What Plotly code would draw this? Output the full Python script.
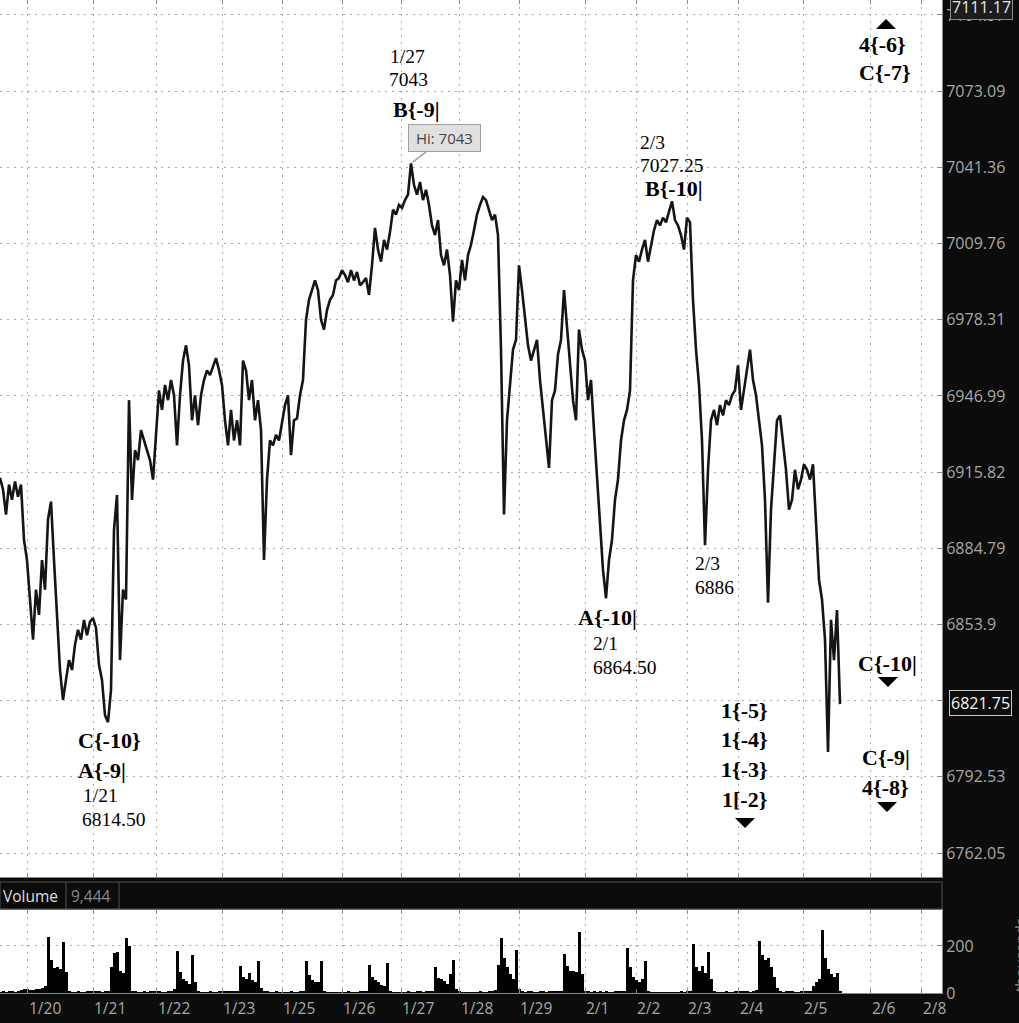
import math
import plotly.graph_objects as go

# ---------------- data (one value per bar) ----------------
price = [
    6913.5, 6908.75, 6898.5, 6910.75, 6904.5, 6912, 6905.75, 6910.75, 6888.25, 6880,
    6864, 6847.75, 6868, 6857.75, 6880, 6868, 6896.5, 6903.75, 6880, 6859.75,
    6835.5, 6823.5, 6831.5, 6839.5, 6835.5, 6845.75, 6851.75, 6847.75, 6855.75, 6849.5,
    6855, 6856.5, 6852.5, 6837.5, 6831.5, 6817.25, 6814.5, 6827.5, 6892.25, 6906.5,
    6839.5, 6868, 6864, 6945.25, 6904.5, 6924.75, 6920.75, 6933, 6928.75, 6924.75,
    6920.75, 6912.75, 6933, 6949.25, 6941.25, 6951.5, 6945.25, 6953.5, 6947.25, 6926.75,
    6947.25, 6961.5, 6967.75, 6959.5, 6937, 6947.25, 6935, 6947.25, 6953.5, 6957.5,
    6955.5, 6959.5, 6962.5, 6957.5, 6951.5, 6937, 6926.75, 6941.25, 6928.75, 6937,
    6926.75, 6961.5, 6957.5, 6945.25, 6953.5, 6937, 6945.25, 6933, 6880, 6912.75,
    6928.75, 6926.75, 6931, 6928.75, 6937, 6943.25, 6947.25, 6922.75, 6937, 6937.75,
    6947.25, 6953.5, 6978.25, 6986.5, 6990.5, 6994.5, 6990.5, 6978.25, 6974.25, 6982.25,
    6986.5, 6988.5, 6994.5, 6995.5, 6998.75, 6996.75, 6993.75, 6998.75, 6994.5, 6998,
    6992.5, 6993.75, 6995.5, 6988.5, 7000.75, 7016.25, 7007.25, 7002.25, 7011.25, 7007.25,
    7014.5, 7023.75, 7021.75, 7025.75, 7024.5, 7027.75, 7030, 7043, 7034, 7030,
    7035.25, 7027.75, 7032, 7025.75, 7017.25, 7013.25, 7019.5, 7005, 7000.75, 7007.25,
    6996.75, 6977.5, 6994.5, 6990.5, 7003, 6994.5, 7005, 7009.25, 7015.25, 7021.75,
    7025.75, 7029, 7027.75, 7023.75, 7019.5, 7021.75, 7013.25, 6966, 6898.5, 6937,
    6953.5, 6966, 6970, 7000.75, 6990.5, 6978.25, 6967.75, 6961.5, 6966, 6970,
    6953.5, 6941.25, 6928.75, 6917.5, 6945.25, 6949.25, 6964, 6970, 6990.5, 6974.25,
    6957.5, 6945.25, 6937, 6974.25, 6966, 6961.5, 6945.25, 6953.5, 6933, 6912.75,
    6892.25, 6876, 6864.5, 6880, 6888.25, 6904.5, 6912.75, 6928.75, 6937, 6941.25,
    6949.25, 6994.5, 7005, 7002.25, 7007.25, 7011.25, 7002.25, 7009.25, 7015.25, 7019.5,
    7017.25, 7020.5, 7018.5, 7023, 7027.25, 7019.5, 7017.25, 7013.25, 7007.25, 7020.5,
    7018.5, 6986.5, 6966, 6951.5, 6928.75, 6886, 6916.75, 6937, 6941.25, 6935,
    6943.25, 6939, 6945.25, 6943.25, 6947.25, 6949.25, 6959.5, 6941.25, 6949.25, 6957.5,
    6966, 6953.5, 6947.25, 6937, 6926.75, 6904.5, 6862.75, 6900.5, 6920.75, 6937,
    6939, 6928.75, 6916.75, 6900.5, 6904.5, 6916.75, 6908.75, 6912.75, 6919, 6916.75,
    6912.75, 6919, 6896.5, 6872, 6864, 6847.75, 6802.5, 6855.75, 6839.5, 6859.75, 6821.75,
]

volume_k = [
    4, 6, 3, 5, 8, 4, 6, 12, 15, 18,
    14, 12, 16, 18, 20, 30, 240, 140, 105, 110,
    100, 215, 90, 6, 4, 3, 5, 4, 3, 6,
    8, 10, 9, 5, 4, 6, 8, 110, 170, 175,
    95, 85, 235, 200, 10, 5, 4, 3, 5, 4,
    6, 5, 10, 8, 4, 3, 5, 6, 15, 180,
    90, 60, 50, 40, 160, 45, 5, 4, 3, 4,
    5, 3, 4, 6, 8, 6, 9, 7, 5, 10,
    115, 70, 60, 85, 55, 45, 135, 20, 10, 8,
    4, 3, 5, 2, 3, 4, 3, 5, 4, 3,
    6, 8, 135, 75, 55, 45, 45, 135, 5, 3,
    4, 3, 2, 3, 4, 3, 5, 4, 3, 4,
    5, 6, 10, 120, 70, 55, 45, 35, 30, 128,
    6, 3, 4, 2, 3, 4, 6, 3, 4, 5,
    6, 4, 5, 8, 10, 110, 65, 60, 50, 40,
    80, 140, 15, 5, 3, 4, 3, 2, 4, 3,
    5, 4, 3, 6, 8, 12, 120, 235, 150, 110,
    80, 60, 185, 15, 6, 4, 8, 5, 4, 3,
    6, 5, 4, 7, 5, 8, 6, 9, 165, 115,
    95, 95, 90, 260, 80, 6, 8, 4, 5, 3,
    6, 4, 5, 3, 4, 6, 5, 8, 10, 190,
    110, 70, 55, 45, 60, 135, 5, 3, 2, 4,
    3, 2, 3, 4, 2, 3, 4, 5, 3, 6,
    10, 210, 110, 95, 115, 85, 175, 60, 5, 4,
    3, 4, 5, 3, 4, 8, 10, 8, 6, 5,
    4, 6, 12, 220, 160, 140, 150, 110, 70, 20,
    5, 4, 8, 9, 6, 4, 3, 5, 8, 7,
    10, 30, 45, 60, 270, 150, 100, 80, 70, 85, 9.444,
]

day_start_bar = [9.33, 31, 52.33, 74, 94, 114, 133.67, 153.33, 173, 195,
                 212, 229, 246.33, 267.67, 290.33, 307.33]
day_labels = ["1/20", "1/21", "1/22", "1/23", "1/25", "1/26", "1/27", "1/28", "1/29",
              "2/1", "2/2", "2/3", "2/4", "2/5", "2/6", "2/8"]

price_ticks = [7104.97, 7073.09, 7041.36, 7009.76, 6978.31, 6946.99, 6915.82,
               6884.79, 6853.9, 6823.15, 6792.53, 6762.05]
price_tick_text = ["7104.97", "7073.09", "7041.36", "7009.76", "6978.31", "6946.99",
                   "6915.82", "6884.79", "6853.9", "", "6792.53", "6762.05"]
volume_ticks = [0, 200]
volume_tick_text = ["0", "200"]

hi_bar, hi_price = 137, 7043
last_price_text = "6821.75"
top_price_text = "7111.17"
last_volume_text = "9,444"

bars = list(range(len(price)))

# ---------------- layout geometry ----------------
W, H = 1019, 1023
PW, PH = 942, 993            # plot area in px (margins r=77, b=30)
PRICE_BOTTOM, VOL_TOP = 877, 910
Y_TOP, Y_BOT = 7111.26, 6752.48
X_MAX = 314
VOL_MAX = 353

def xp(px):
    return px / PW

def yp(py):
    return 1 - py / PH

GRID = "#a9a9a9"
DASH = "2px,5px"
AXIS_LINE = "#8a8a8a"
LABEL = "#a8a8a8"
SANS = "Open Sans"
SERIF = "Liberation Serif"

fig = go.Figure()
fig.add_trace(go.Scatter(x=bars, y=price, mode="lines",
                         line=dict(color="#151515", width=2.6),
                         xaxis="x", yaxis="y", hoverinfo="skip"))
fig.add_trace(go.Bar(x=bars, y=volume_k, marker=dict(color="black", line=dict(width=0)),
                     xaxis="x2", yaxis="y2", hoverinfo="skip"))

common_x = dict(range=[0, X_MAX], tickvals=day_start_bar, showticklabels=False,
                showgrid=True, gridcolor=GRID, griddash=DASH, gridwidth=1,
                ticks="inside", ticklen=4, tickcolor=AXIS_LINE,
                showline=True, linecolor=AXIS_LINE, linewidth=1, mirror="ticks",
                zeroline=False, fixedrange=True)

fig.update_layout(
    width=W, height=H,
    margin=dict(l=0, r=W - PW, t=0, b=H - PH, autoexpand=False),
    paper_bgcolor="#0c0c0c", plot_bgcolor="white",
    showlegend=False, bargap=0,
    xaxis=dict(domain=[0, 1], anchor="y", **common_x),
    xaxis2=dict(domain=[0, 1], anchor="y2", matches="x", **common_x),
    yaxis=dict(domain=[yp(PRICE_BOTTOM), 1], anchor="x", type="log",
               range=[math.log10(Y_BOT), math.log10(Y_TOP)], side="right",
               tickvals=price_ticks, ticktext=price_tick_text,
               ticks="inside", ticklen=5, tickcolor=AXIS_LINE,
               showgrid=True, gridcolor=GRID, griddash=DASH,
               showline=True, linecolor=AXIS_LINE, mirror=True, zeroline=False,
               tickfont=dict(family=SANS, size=16, color=LABEL), fixedrange=True),
    yaxis2=dict(domain=[0, yp(VOL_TOP)], anchor="x2", range=[0, VOL_MAX], side="right",
                tickvals=volume_ticks, ticktext=volume_tick_text,
                ticks="inside", ticklen=5, tickcolor=AXIS_LINE,
                showgrid=True, gridcolor=GRID, griddash=DASH,
                showline=True, linecolor=AXIS_LINE, mirror=True, zeroline=False,
                tickfont=dict(family=SANS, size=16, color=LABEL), fixedrange=True),
)

# ---- volume header band ----
fig.add_shape(type="rect", xref="paper", yref="paper", x0=0, x1=1,
              y0=yp(VOL_TOP - 1), y1=yp(882), fillcolor="#0b0b0b",
              line=dict(color="#505050", width=1), layer="above")
for sx in (66, 119):
    fig.add_shape(type="line", xref="paper", yref="paper", x0=xp(sx), x1=xp(sx),
                  y0=yp(VOL_TOP - 1), y1=yp(882), line=dict(color="#505050", width=1))
fig.add_annotation(text="Volume", x=xp(1), y=yp(896), xref="paper", yref="paper",
                   xanchor="left", yanchor="middle", showarrow=False,
                   font=dict(family=SANS, size=15.5, color="#dedede"))
fig.add_annotation(text=last_volume_text, x=xp(69), y=yp(896), xref="paper", yref="paper",
                   xanchor="left", yanchor="middle", showarrow=False,
                   font=dict(family=SANS, size=15.5, color="#8a8a8a"))

# ---- date labels (left-aligned to the session grid lines) ----
for b, lab in zip(day_start_bar, day_labels):
    fig.add_annotation(text=lab, x=b, xref="x2", y=0, yref="paper",
                       xanchor="left", yanchor="top", yshift=-2, xshift=-1,
                       showarrow=False, font=dict(family=SANS, size=15.5, color=LABEL))

# ---- "thousands" axis title (cut by the page edge) ----
fig.add_annotation(text="thousands", x=xp(1020), y=yp(955), xref="paper", yref="paper",
                   textangle=-90, showarrow=False, xanchor="center", yanchor="middle",
                   font=dict(family=SANS, size=15, color="#8a8a8a"))

# ---- price boxes on the right axis ----
fig.add_annotation(text=top_price_text, x=xp(981), y=yp(7), xref="paper", yref="paper",
                   xanchor="center", yanchor="middle",
                   showarrow=False, bgcolor="#1c1c1c", bordercolor="#8a8a8a",
                   borderwidth=1, borderpad=1,
                   font=dict(family=SANS, size=16, color="#e6e6e6"))
fig.add_annotation(text=last_price_text, x=xp(980), y=yp(702.5), xref="paper", yref="paper",
                   xanchor="center", yanchor="middle",
                   showarrow=False, bgcolor="#0d0d0d", bordercolor="#c8c8c8",
                   borderwidth=1, borderpad=1,
                   font=dict(family=SANS, size=16, color="#f4f4f4"))

# ---- high callout ----
fig.add_annotation(text=f" Hi: {hi_price} ", x=hi_bar, y=math.log10(hi_price),
                   xref="x", yref="y", showarrow=True, ax=33, ay=-25,
                   arrowhead=0, arrowwidth=1.5, arrowcolor="#a0a0a0", standoff=2,
                   bgcolor="#e0e0e0", bordercolor="#a0a0a0", borderwidth=1, borderpad=3,
                   font=dict(family=SANS, size=15, color="#444444"))

# ---- wave labels ----
notes = [
    # text, x px, y px, bold, anchor
    ("C{-10}", 76, 740, True, "left"),
    ("A{-9|", 76, 770, True, "left"),
    ("1/21", 81, 795, False, "left"),
    ("6814.50", 80, 819, False, "left"),
    ("1/27", 388, 57, False, "left"),
    ("7043", 387, 80, False, "left"),
    ("B{-9|", 391, 109, True, "left"),
    ("2/3", 638, 143, False, "left"),
    ("7027.25", 638, 166, False, "left"),
    ("B{-10|", 643, 189, True, "left"),
    ("A{-10|", 576, 617, True, "left"),
    ("2/1", 591, 643, False, "left"),
    ("6864.50", 591, 667, False, "left"),
    ("2/3", 693, 563, False, "left"),
    ("6886", 693, 587, False, "left"),
    ("1{-5}", 744, 710, True, "center"),
    ("1{-4}", 744, 739, True, "center"),
    ("1{-3}", 744, 769, True, "center"),
    ("1[-2}", 744, 799, True, "center"),
    ("C{-10|", 887, 663, True, "center"),
    ("C{-9|", 886, 757, True, "center"),
    ("4{-8}", 885, 787, True, "center"),
    ("4{-6}", 882, 44, True, "center"),
    ("C{-7}", 885, 72, True, "center"),
]
for t, x, y, b, xa in notes:
    fig.add_annotation(text=f"<b>{t}</b>" if b else t, x=xp(x), y=yp(y),
                       xref="paper", yref="paper", xanchor=xa, yanchor="middle",
                       showarrow=False,
                       font=dict(family=SERIF, size=22 if b else 19.5, color="black"))

def triangle(cx, cy, up=False, w=20, h=10):
    if up:
        pts = [(cx - w / 2, cy + h / 2), (cx + w / 2, cy + h / 2), (cx, cy - h / 2)]
    else:
        pts = [(cx - w / 2, cy - h / 2), (cx + w / 2, cy - h / 2), (cx, cy + h / 2)]
    d = "M" + " L".join(f"{xp(a):.5f},{yp(c):.5f}" for a, c in pts) + " Z"
    fig.add_shape(type="path", path=d, xref="paper", yref="paper",
                  fillcolor="black", line=dict(width=0))

triangle(745, 823)
triangle(888, 682)
triangle(887, 807)
triangle(886, 24, up=True)

fig.write_html("out.html", config={"displayModeBar": False},
               post_script="document.body.style.margin='0';document.body.style.overflow='hidden';")
